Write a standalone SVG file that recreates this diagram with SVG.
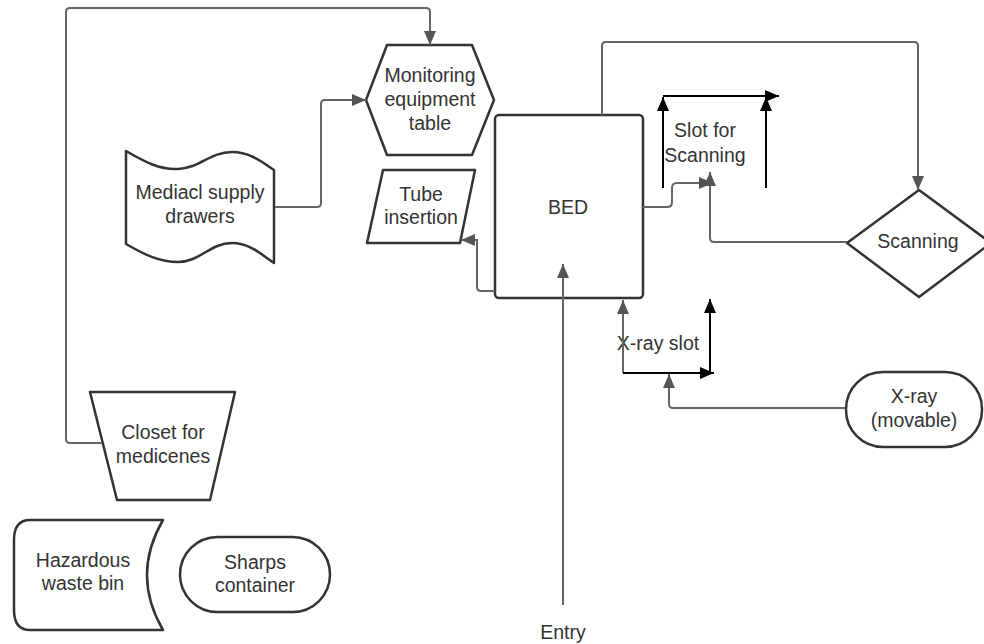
<svg xmlns="http://www.w3.org/2000/svg" width="984" height="644" viewBox="0 0 984 644">
<defs>
<style>
.shape{fill:#fff;stroke:#333;stroke-width:2.5;stroke-linejoin:round}
.conn{fill:none;stroke:#666;stroke-width:2}
.blk{fill:none;stroke:#000;stroke-width:2}
text{font-family:"Liberation Sans",Arial,sans-serif;font-size:19.5px;fill:#333;text-anchor:middle;dominant-baseline:central}
</style>
<marker id="ag" viewBox="0 0 14 12" refX="14" refY="6" markerWidth="14" markerHeight="12" markerUnits="userSpaceOnUse" orient="auto"><path d="M0,0 L14,6 L0,12 z" fill="#555"/></marker>
<marker id="ab" viewBox="0 0 14 12" refX="14" refY="6" markerWidth="14" markerHeight="12" markerUnits="userSpaceOnUse" orient="auto"><path d="M0,0 L14,6 L0,12 z" fill="#000"/></marker>
</defs>
<rect width="984" height="644" fill="#fff"/>
<g id="monitoring">
<polygon class="shape" points="366,100 387,45 472,45 494,100 472,155 387,155"/>
<text x="430" y="75">Monitoring</text>
<text x="430" y="99">equipment</text>
<text x="430" y="123">table</text>
</g>
<g id="drawers">
<path class="shape" d="M126,151 C145,162 160,170 178,169 C200,168 210,152 232,152 C250,152 262,162 274,170 V263 C262,255 250,243 232,243 C210,243 200,262 178,262 C160,262 145,255 126,244 Z"/>
<text x="200" y="192">Mediacl supply</text>
<text x="200" y="216">drawers</text>
</g>
<g id="tube">
<polygon class="shape" points="383,170 475,170 460,243 367,243"/>
<text x="421" y="194">Tube</text>
<text x="421" y="217">insertion</text>
</g>
<g id="bed">
<rect class="shape" x="495" y="115" width="148" height="183" rx="4"/>
<text x="568" y="207">BED</text>
</g>
<g id="slot-scanning">
<text x="705" y="130">Slot for</text>
<text x="705" y="155">Scanning</text>
</g>
<g id="scanning">
<polygon class="shape" points="919,190 991,243 919,297 847,243"/>
<text x="918" y="241">Scanning</text>
</g>
<g id="xray-slot">
<text x="658" y="343">X-ray slot</text>
</g>
<g id="xray">
<rect class="shape" x="846" y="372" width="136" height="75" rx="37"/>
<text x="914" y="396">X-ray</text>
<text x="914" y="420">(movable)</text>
</g>
<g id="closet">
<polygon class="shape" points="90,392 235,392 210,500 117,500"/>
<text x="163" y="432">Closet for</text>
<text x="163" y="456">medicenes</text>
</g>
<g id="hazardous">
<path class="shape" d="M163,520 H30 Q14,520 14,540 V610 Q14,630 30,630 H163 Q131,575 163,520 Z"/>
<text x="83" y="560">Hazardous</text>
<text x="83" y="583">waste bin</text>
</g>
<g id="sharps">
<rect class="shape" x="180" y="537" width="150" height="75" rx="37.5"/>
<text x="255" y="562">Sharps</text>
<text x="255" y="585">container</text>
</g>
<g id="entry">
<text x="563" y="632">Entry</text>
</g>
<g id="connectors">
<path class="conn" d="M102,443 H70 Q66,443 66,439 V12 Q66,8 70,8 H426 Q430,8 430,12 V45" marker-end="url(#ag)"/>
<path class="conn" d="M275,207 H317 Q321,207 321,203 V104 Q321,100 325,100 H366" marker-end="url(#ag)"/>
<path class="conn" d="M495,291 H481 Q477,291 477,287 V240 H461" marker-end="url(#ag)"/>
<path class="conn" d="M563,605 V264" marker-end="url(#ag)"/>
<path class="conn" d="M602,115 V46 Q602,42 606,42 H914 Q918,42 918,46 V190" marker-end="url(#ag)"/>
<path class="conn" d="M643,207 H667 Q672,207 672,202 V188 Q672,183 677,183 H713" marker-end="url(#ag)"/>
<path class="conn" d="M847,242 H714 Q710,242 710,238 V172" marker-end="url(#ag)"/>
<path class="conn" d="M623,373 V300" marker-end="url(#ag)"/>
<path class="conn" d="M845,408 H673 Q669,408 669,404 V374" marker-end="url(#ag)"/>
<path class="blk" d="M623,373 H714" marker-end="url(#ab)"/>
<path class="blk" d="M710,373 V299" marker-end="url(#ab)"/>
<path class="blk" d="M663,188 V97" marker-end="url(#ab)"/>
<path class="blk" d="M663,96 H779" marker-end="url(#ab)"/>
<path class="blk" d="M766,188 V97" marker-end="url(#ab)"/>
</g>
</svg>
